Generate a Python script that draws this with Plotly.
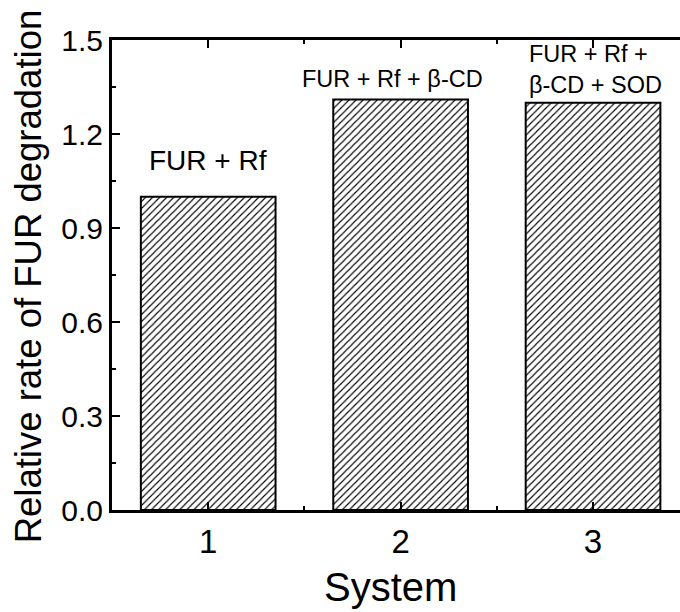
import plotly.graph_objects as go

systems = [1, 2, 3]
rates = [1.00, 1.31, 1.30]
bar_labels = ["FUR + Rf", "FUR + Rf + β-CD", "FUR + Rf +<br>β-CD + SOD"]
y_ticks = [0.0, 0.3, 0.6, 0.9, 1.2, 1.5]
y_tick_text = ["0.0", "0.3", "0.6", "0.9", "1.2", "1.5"]
x_title = "System"
y_title = "Relative rate of FUR degradation"

FONT = "Arial, Liberation Sans, sans-serif"

fig = go.Figure()
fig.add_trace(go.Bar(
    x=systems, y=rates, width=0.7,
    marker=dict(
        color="white",
        line=dict(color="black", width=2),
        pattern=dict(shape="/", size=5, solidity=0.22,
                     fgcolor="black", bgcolor="white", fillmode="replace"),
    ),
    showlegend=False,
))

label_font_sizes = [28, 23.5, 23.5]
label_shifts = [36, 21, 33]
label_xshifts = [0, -8, 2]
label_aligns = ["center", "center", "left"]
for xv, yv, txt, fs, ys, xs, al in zip(systems, rates, bar_labels, label_font_sizes,
                                        label_shifts, label_xshifts, label_aligns):
    fig.add_annotation(x=xv, y=yv, xref="x", yref="y", text=txt, showarrow=False,
                       yanchor="middle", xanchor="center", yshift=ys, xshift=xs,
                       align=al, font=dict(family=FONT, size=fs, color="black"))

fig.add_annotation(x=-0.148, y=0.497, xref="paper", yref="paper", text=y_title,
                   textangle=-90, showarrow=False, xanchor="center", yanchor="middle",
                   font=dict(family=FONT, size=36.5, color="black"))
fig.add_annotation(x=0.491, y=-0.163, xref="paper", yref="paper", text=x_title,
                   showarrow=False, xanchor="center", yanchor="middle",
                   font=dict(family=FONT, size=40, color="black"))

fig.update_layout(
    width=680, height=612,
    margin=dict(l=112, r=0, t=40, b=102),
    paper_bgcolor="white", plot_bgcolor="white",
    bargap=0.3,
    xaxis=dict(
        range=[0.5, 3.452], tickvals=systems, ticktext=[str(s) for s in systems],
        showline=True, linecolor="black", linewidth=3, mirror="allticks",
        ticks="inside", ticklen=8, tickwidth=2, tickcolor="black",
        minor=dict(tickvals=[1.5, 2.5], ticks="inside", ticklen=4, tickwidth=2, tickcolor="black"),
        showgrid=False, zeroline=False,
        tickfont=dict(family=FONT, size=33, color="black"),
    ),
    yaxis=dict(
        range=[0, 1.5], tickvals=y_ticks, ticktext=y_tick_text,
        showline=True, linecolor="black", linewidth=3, mirror=False,
        ticks="inside", ticklen=8, tickwidth=2, tickcolor="black",
        minor=dict(dtick=0.15, ticks="inside", ticklen=4, tickwidth=2, tickcolor="black"),
        showgrid=False, zeroline=False,
        tickfont=dict(family=FONT, size=30, color="black"),
    ),
)

fig.write_html("out.html")
